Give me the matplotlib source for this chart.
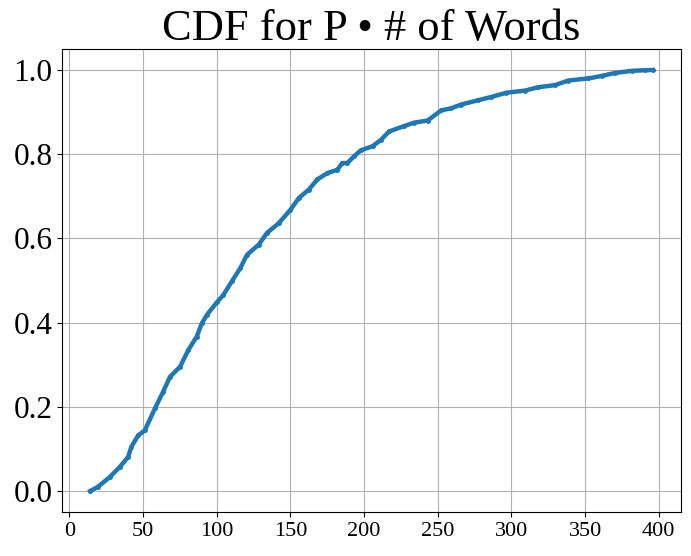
import matplotlib
matplotlib.use("Agg")
import matplotlib.pyplot as plt

# points
words = [14, 19.3, 27.3, 34.1, 39.8, 42.0, 46.6, 51.1, 58, 63.6, 68.2, 75,
         80.7, 86.4, 89.8, 93.2, 100, 104.5, 110.2, 115.9, 120.5, 128.4,
         134.1, 142, 150, 155.7, 162.5, 168.2, 175, 181.8, 185.2, 188.6,
         193.2, 197.7, 205.7, 211.4, 217, 227.3, 234.1, 243.2, 252.3, 259.1,
         265.9, 277.3, 286.4, 296.6, 309.1, 318.2, 329.5, 338.6, 352.3,
         361.4, 370.5, 381.8, 390.9, 396]
cdf = [0.0, 0.01, 0.033, 0.057, 0.081, 0.105, 0.132, 0.144, 0.196, 0.236,
       0.271, 0.295, 0.335, 0.367, 0.398, 0.418, 0.448, 0.466, 0.498, 0.529,
       0.561, 0.585, 0.613, 0.636, 0.668, 0.696, 0.716, 0.740, 0.755, 0.763,
       0.779, 0.779, 0.795, 0.809, 0.819, 0.834, 0.854, 0.867, 0.875, 0.880,
       0.904, 0.909, 0.918, 0.928, 0.936, 0.946, 0.951, 0.959, 0.964, 0.975,
       0.980, 0.986, 0.993, 0.998, 0.9995, 1.0]

plt.rcParams["font.family"] = ["Liberation Serif", "DejaVu Serif"]

fig = plt.figure(figsize=(6.91, 5.56), dpi=100)
plt.subplots_adjust(left=0.0897, right=0.9855, top=0.912, bottom=0.079)
plt.plot(words, cdf, color="#1f77b4", linewidth=3.2, marker=".", markersize=5)
plt.title("CDF for P • # of Words", fontsize=32)
plt.xticks(fontsize=16)
plt.yticks(fontsize=22.5)
plt.grid(color="#b0b0b0")
plt.savefig("out.png", dpi=100)
